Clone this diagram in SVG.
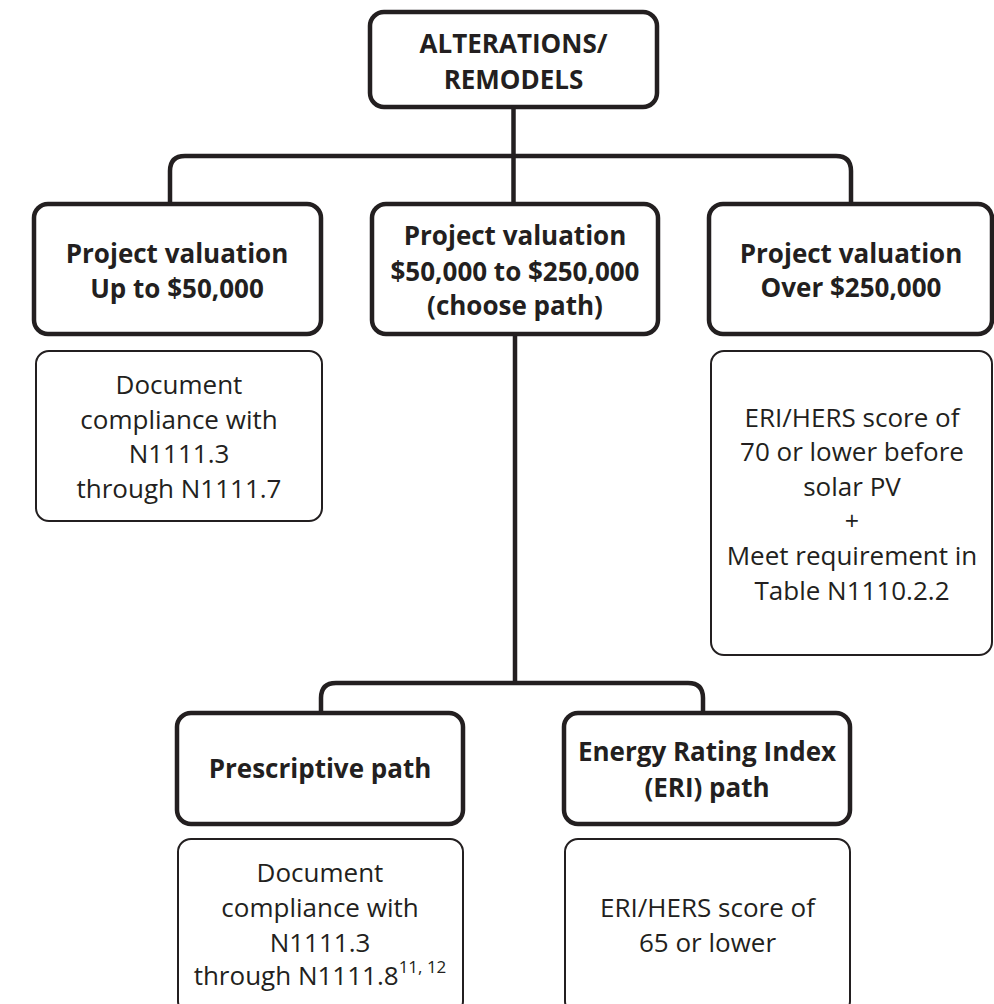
<svg xmlns="http://www.w3.org/2000/svg" width="994" height="1004" viewBox="0 0 994 1004">
<style>
.bold{fill:#fff;stroke:#231f20;stroke-width:4.5}
.thin{fill:#fff;stroke:#231f20;stroke-width:2}
.conn{fill:none;stroke:#231f20;stroke-width:4.5}
.tb{font-family:"Open Sans","Noto Sans","Liberation Sans",sans-serif;font-weight:bold;font-size:26px;fill:#231f20;text-anchor:middle}
.tr{font-family:"Open Sans","Noto Sans","Liberation Sans",sans-serif;font-size:26px;fill:#231f20;text-anchor:middle}
</style>
<rect width="994" height="1004" fill="#fff"/>
<g id="connectors">
<path class="conn" d="M513.5,107 V204"/>
<path class="conn" d="M170,204 V171 Q170,156 185,156 H836 Q851,156 851,171 V204"/>
<path class="conn" d="M515,334 V683"/>
<path class="conn" d="M321,713 V698 Q321,683 336,683 H688 Q703,683 703,698 V713"/>
</g>
<g id="n-root">
<rect class="bold" x="370" y="12" width="287" height="95" rx="14"/>
<text class="tb" x="513.5" y="53">ALTERATIONS/</text>
<text class="tb" x="513.5" y="89">REMODELS</text>
</g>
<g id="n-upto50">
<rect class="bold" x="34" y="204" width="287" height="130" rx="14"/>
<text class="tb" x="177" y="263">Project valuation</text>
<text class="tb" x="177" y="298">Up to $50,000</text>
</g>
<g id="n-50to250">
<rect class="bold" x="372" y="204" width="286" height="130" rx="14"/>
<text class="tb" x="515" y="245">Project valuation</text>
<text class="tb" x="515" y="281">$50,000 to $250,000</text>
<text class="tb" x="515" y="315">(choose path)</text>
</g>
<g id="n-over250">
<rect class="bold" x="709" y="204" width="283" height="130" rx="14"/>
<text class="tb" x="851" y="263">Project valuation</text>
<text class="tb" x="851" y="297">Over $250,000</text>
</g>
<g id="d-upto50">
<rect class="thin" x="36" y="351" width="286" height="170" rx="13"/>
<text class="tr" x="179" y="394">Document</text>
<text class="tr" x="179" y="429">compliance with</text>
<text class="tr" x="179" y="463">N1111.3</text>
<text class="tr" x="179" y="498">through N1111.7</text>
</g>
<g id="d-over250">
<rect class="thin" x="711" y="351" width="281" height="304" rx="13"/>
<text class="tr" x="852" y="427">ERI/HERS score of</text>
<text class="tr" x="852" y="461">70 or lower before</text>
<text class="tr" x="852" y="496">solar PV</text>
<text class="tr" x="852" y="530" style="font-size:25px">+</text>
<text class="tr" x="852" y="565">Meet requirement in</text>
<text class="tr" x="852" y="600">Table N1110.2.2</text>
</g>
<g id="n-prescriptive">
<rect class="bold" x="177" y="713" width="286" height="111" rx="14"/>
<text class="tb" x="320" y="778">Prescriptive path</text>
</g>
<g id="n-eri">
<rect class="bold" x="564" y="713" width="286" height="111" rx="14"/>
<text class="tb" x="707" y="761">Energy Rating Index</text>
<text class="tb" x="707" y="797">(ERI) path</text>
</g>
<g id="d-prescriptive">
<rect class="thin" x="178" y="839" width="285" height="175" rx="13"/>
<text class="tr" x="320" y="882">Document</text>
<text class="tr" x="320" y="917">compliance with</text>
<text class="tr" x="320" y="952">N1111.3</text>
<text class="tr" x="320" y="985">through N1111.8<tspan dy="-12" style="font-size:17px">11, 12</tspan></text>
</g>
<g id="d-eri">
<rect class="thin" x="565" y="839" width="285" height="175" rx="13"/>
<text class="tr" x="707.5" y="917">ERI/HERS score of</text>
<text class="tr" x="707.5" y="952">65 or lower</text>
</g>
</svg>
